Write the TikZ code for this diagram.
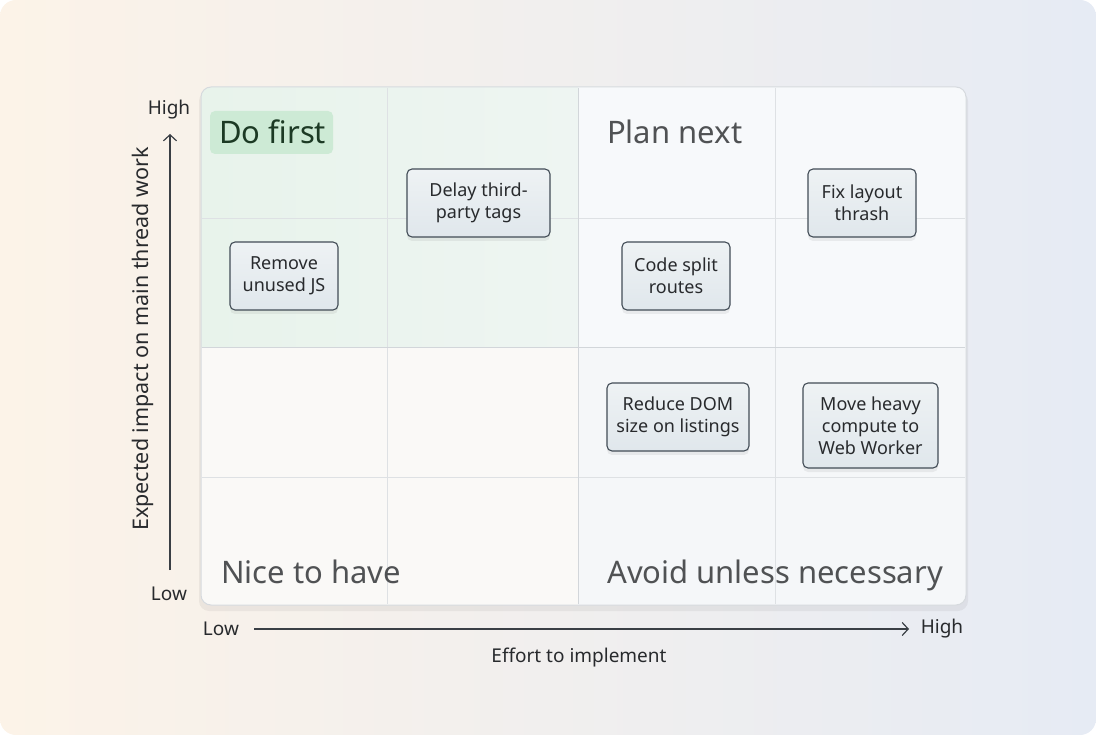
\documentclass[tikz,border=0pt]{standalone}
\usepackage{fontspec}
\setmainfont{Noto Sans}
\usetikzlibrary{arrows.meta,shadows,shadings}
\definecolor{bgL}{RGB}{252,243,232}
\definecolor{bgR}{RGB}{230,235,244}
\definecolor{panelB}{RGB}{214,218,222}
\definecolor{gridC}{RGB}{222,225,228}
\definecolor{gridM}{RGB}{210,214,218}
\definecolor{greenQ}{RGB}{232,243,235}
\definecolor{greenQR}{RGB}{238,245,242}
\definecolor{blueQ}{RGB}{247,249,251}
\definecolor{warmQ}{RGB}{250,249,247}
\definecolor{brQ}{RGB}{245,247,249}
\definecolor{tagG}{RGB}{205,234,213}
\definecolor{tagT}{RGB}{28,58,36}
\definecolor{titleC}{RGB}{80,82,84}
\definecolor{itemB}{RGB}{66,76,86}
\definecolor{itemT}{RGB}{238,242,244}
\definecolor{itemBt}{RGB}{224,231,236}
\definecolor{axisC}{RGB}{58,63,69}
\definecolor{textC}{RGB}{40,42,45}
\tikzset{
  x=1pt, y=-1pt,
  item/.style={draw=itemB, line width=1.1pt, rounded corners=5pt, top color=itemT, bottom color=itemBt,
     align=center, font=\fontsize{18}{22}\selectfont, text=textC, inner sep=0pt,
     drop shadow={shadow xshift=0pt, shadow yshift=-4pt, opacity=0.12}},
  qtitle/.style={font=\fontsize{31}{36}\selectfont, text=titleC, anchor=base west, inner sep=0pt},
  axlab/.style={font=\fontsize{19}{23}\selectfont, text=textC, inner sep=0pt},
  axis/.style={draw=axisC, line width=1.2pt, -{Straight Barb[length=6pt,width=13pt]}},
  gridl/.style={draw=gridC, line width=0.9pt},
}
\begin{document}
\begin{tikzpicture}
\useasboundingbox (0,0) rectangle (1096,735);
% background
\shade[left color=bgL, right color=bgR, rounded corners=16pt] (0,0) rectangle (1096,735);
% panel
\fill[black, opacity=0.05, rounded corners=10pt] (199,91) rectangle (968,611);
\fill[white, rounded corners=10pt] (201,87) rectangle (966,605);
\begin{scope}
\clip[rounded corners=10pt] (201,87) rectangle (966,605);
\shade[left color=greenQ, right color=greenQR] (201,87) rectangle (578,348);
\fill[blueQ] (578,87) rectangle (966,348);
\fill[warmQ] (201,348) rectangle (578,605);
\fill[brQ] (578,348) rectangle (966,605);
\end{scope}
\draw[gridl] (387,88) -- (387,604);
\draw[gridl] (775,88) -- (775,604);
\draw[gridl] (202,218) -- (965,218);
\draw[gridl] (202,477) -- (965,477);
\draw[draw=gridM, line width=1pt] (578,88) -- (578,604);
\draw[draw=gridM, line width=1pt] (202,348) -- (965,348);
\draw[draw=panelB, line width=1pt, rounded corners=10pt] (201,87) rectangle (966,605);
% quadrant titles
\node[fill=tagG, rounded corners=5pt, minimum width=123pt, minimum height=43pt, inner sep=0pt] (dofirstbox) at (271.5,132.5) {};
\node[qtitle, text=tagT] (dofirst) at (219,143.5) {Do first};
\node[qtitle] (plannext) at (607,143.5) {Plan next};
\node[qtitle] (nice) at (221,583) {Nice to have};
\node[qtitle] (avoid) at (607,583) {Avoid unless necessary};
% items
\node[item, minimum width=143pt, minimum height=68pt] (delay) at (478.5,203) {Delay third-\\party tags};
\node[item, minimum width=108pt, minimum height=68pt] (remove) at (284,276) {Remove\\unused JS};
\node[item, minimum width=108pt, minimum height=68pt] (codesplit) at (676,276) {Code split\\routes};
\node[item, minimum width=108pt, minimum height=68pt] (fixlayout) at (862,203) {Fix layout\\thrash};
\node[item, minimum width=142pt, minimum height=68pt] (reduce) at (678,417) {Reduce DOM\\size on listings};
\node[item, minimum width=135pt, minimum height=85pt] (move) at (870.5,425.5) {Move heavy\\compute to\\Web Worker};
% axes
\node[axlab] (yhigh) at (169,110) {High};
\node[axlab] (ylow) at (169,594) {Low};
\coordinate (ybot) at (170,570);
\coordinate (ytop) at (170,134);
\draw[axis] (ybot) -- (ytop);
\node[axlab, rotate=90, font=\fontsize{21.5}{25}\selectfont] (ylab) at (143,339) {Expected impact on main thread work};
\node[axlab] (xlow) at (221,629) {Low};
\node[axlab] (xhigh) at (942,629) {High};
\coordinate (xl) at (254,629);
\coordinate (xr) at (909,629);
\draw[axis] (xl) -- (xr);
\node[axlab] (xlab) at (579,658) {Effort to implement};
\end{tikzpicture}
\end{document}
